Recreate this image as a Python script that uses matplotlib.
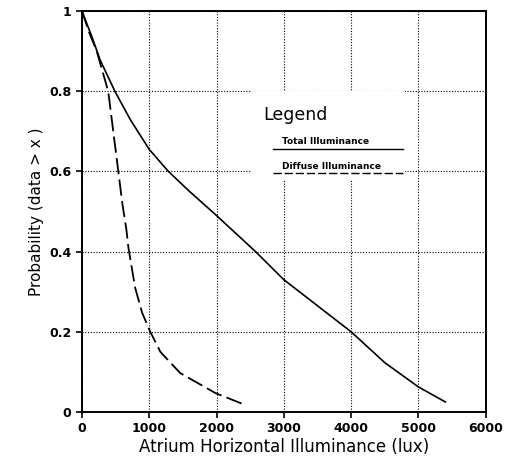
import matplotlib
matplotlib.use('Agg')
import matplotlib.pyplot as plt
from matplotlib.patches import Rectangle

# values
total_x = [0, 150, 270, 490, 716, 1000, 1285, 1600, 2000, 2580, 3000, 3500, 4000, 4500, 5000, 5400]
total_y = [1.0, 0.935, 0.878, 0.80, 0.73, 0.655, 0.60, 0.55, 0.49, 0.40, 0.33, 0.265, 0.20, 0.123, 0.0625, 0.025]

diffuse_x = [0, 100, 220, 390, 465, 540, 600, 660, 690, 730, 790, 895, 1015, 1165, 1460, 1985, 2390]
diffuse_y = [1.0, 0.95, 0.90, 0.80, 0.70, 0.60, 0.52, 0.455, 0.41, 0.37, 0.31, 0.247, 0.20, 0.15, 0.097, 0.047, 0.02]

x_ticks = [0, 1000, 2000, 3000, 4000, 5000, 6000]
y_ticks = [0, 0.2, 0.4, 0.6, 0.8, 1]
y_tick_labels = ['0', '0.2', '0.4', '0.6', '0.8', '1']

plt.rcParams['font.family'] = ['DejaVu Sans']

fig = plt.figure(figsize=(5.06, 4.65), dpi=100)
ax = fig.add_axes([0.162, 0.114, 0.798, 0.862])

ax.set_xlim(0, 6000)
ax.set_ylim(0, 1)
ax.set_xticks(x_ticks)
ax.set_xticklabels([str(t) for t in x_ticks], fontweight='bold', fontsize=9)
ax.set_yticks(y_ticks)
ax.set_yticklabels(y_tick_labels, fontweight='bold', fontsize=9)
ax.tick_params(direction='out', length=4, width=1.2, colors='black')

ax.grid(True, color='black', linestyle=(0, (1, 1.5)), linewidth=0.8)
ax.set_axisbelow(True)
for s in ax.spines.values():
    s.set_linewidth(1.4)

ax.plot(total_x, total_y, color='black', linewidth=1.2, zorder=3)
ax.plot(diffuse_x, diffuse_y, color='black', linewidth=1.3,
        linestyle=(0, (9, 3)), zorder=3)

# hand drawn legend block, white background hides the grid
ax.add_patch(Rectangle((0.42, 0.58), 0.38, 0.22, transform=ax.transAxes,
                       facecolor='white', edgecolor='none', zorder=2))
ax.text(0.448, 0.74, 'Legend', transform=ax.transAxes, fontsize=12.5, va='center', zorder=4)
ax.text(0.495, 0.675, 'Total Illuminance', transform=ax.transAxes, fontsize=6.5,
        fontweight='bold', va='center', zorder=4)
ax.plot([0.473, 0.795], [0.656, 0.656], transform=ax.transAxes, color='black',
        linewidth=1.0, zorder=4)
ax.text(0.495, 0.613, 'Diffuse Illuminance', transform=ax.transAxes, fontsize=6.5,
        fontweight='bold', va='center', zorder=4)
ax.plot([0.473, 0.795], [0.596, 0.596], transform=ax.transAxes, color='black',
        linewidth=1.0, linestyle=(0, (6, 2)), zorder=4)

ax.set_xlabel('Atrium Horizontal Illuminance (lux)', fontsize=12, labelpad=2)
ax.set_ylabel('Probability (data > x )', fontsize=11, labelpad=4)

fig.savefig('out.png', dpi=100)
